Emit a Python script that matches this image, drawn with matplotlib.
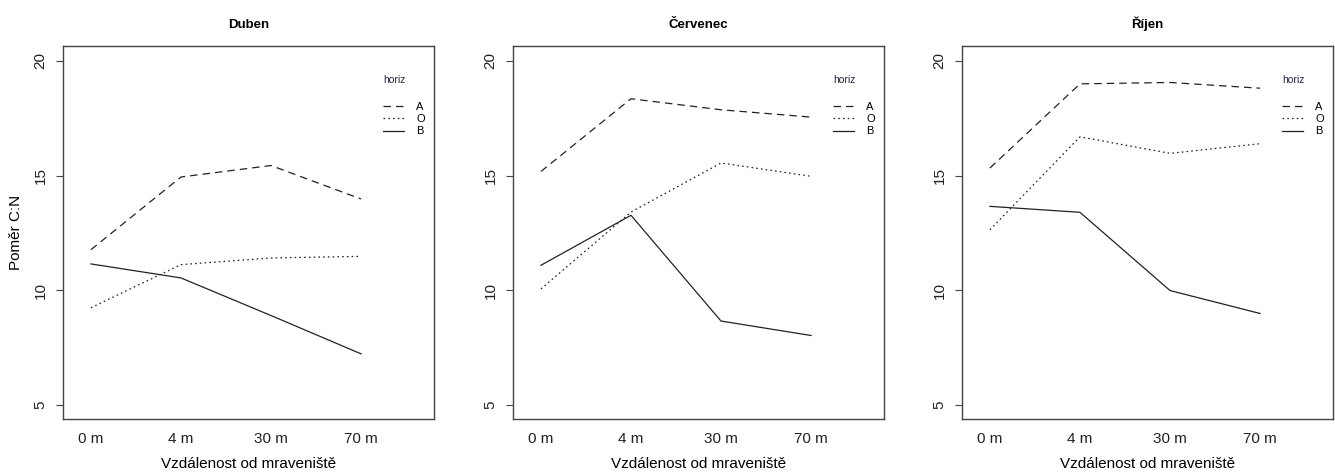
import matplotlib.pyplot as plt

plt.rcParams['font.family'] = ['Liberation Sans', 'DejaVu Sans']

# data
distances = ['0 m', '4 m', '30 m', '70 m']
months = ['Duben', 'Červenec', 'Říjen']
horizons = ['A', 'O', 'B']

duben_A = [11.77, 14.94, 15.44, 13.98]
duben_O = [9.24, 11.12, 11.41, 11.48]
duben_B = [11.15, 10.54, 8.90, 7.23]

cervenec_A = [15.18, 18.35, 17.87, 17.55]
cervenec_O = [10.06, 13.41, 15.55, 14.97]
cervenec_B = [11.09, 13.27, 8.66, 8.03]

rijen_A = [15.33, 19.00, 19.06, 18.81]
rijen_O = [12.64, 16.69, 15.97, 16.39]
rijen_B = [13.66, 13.40, 9.99, 8.99]

data = {
    'Duben': [duben_A, duben_O, duben_B],
    'Červenec': [cervenec_A, cervenec_O, cervenec_B],
    'Říjen': [rijen_A, rijen_O, rijen_B],
}

styles = [(0, (6, 4)), (0, (1.3, 2.5)), '-']

W, H = 1335, 473
fig = plt.figure(figsize=(W / 100, H / 100), dpi=100)

lefts = [63, 513, 962]
x = [1, 2, 3, 4]

for i, month in enumerate(months):
    ax = fig.add_axes([lefts[i] / W, (H - 419) / H, 371 / W, 373 / H])
    lines = []
    for vals, ls, name in zip(data[month], styles, horizons):
        ln, = ax.plot(x, vals, color='#222222', lw=0.9, linestyle=ls, label=name)
        lines.append(ln)

    ax.set_xlim(0.69, 4.81)
    ax.set_ylim(4.39, 20.65)
    ax.set_xticks(x)
    ax.set_xticklabels(distances, fontsize=11)
    ax.set_yticks([5, 10, 15, 20])
    ax.set_yticklabels(['5', '10', '15', '20'], fontsize=11, rotation=90, va='center')
    ax.tick_params(axis='x', length=0, pad=9, colors='#222222')
    ax.tick_params(axis='y', length=5, pad=6, colors='#444444', labelcolor='#222222')
    for sp in ax.spines.values():
        sp.set_color('#444444')
        sp.set_linewidth(1.0)

    ax.set_title(month, fontsize=9.5, fontweight='bold', pad=13)
    ax.set_xlabel('Vzdálenost od mraveniště', fontsize=11, labelpad=8)
    if i == 0:
        ax.set_ylabel('Poměr C:N', fontsize=11, labelpad=8)

    ax.text(0.862, 0.909, 'horiz', transform=ax.transAxes, fontsize=7.5,
            ha='left', va='center', color='#222244')
    ax.legend(handles=lines, loc='upper left', bbox_to_anchor=(0.862, 0.85),
              frameon=False, fontsize=8, handlelength=1.9, handletextpad=1.1,
              labelspacing=0.2, borderpad=0, borderaxespad=0)

fig.savefig('out.png', dpi=100)
